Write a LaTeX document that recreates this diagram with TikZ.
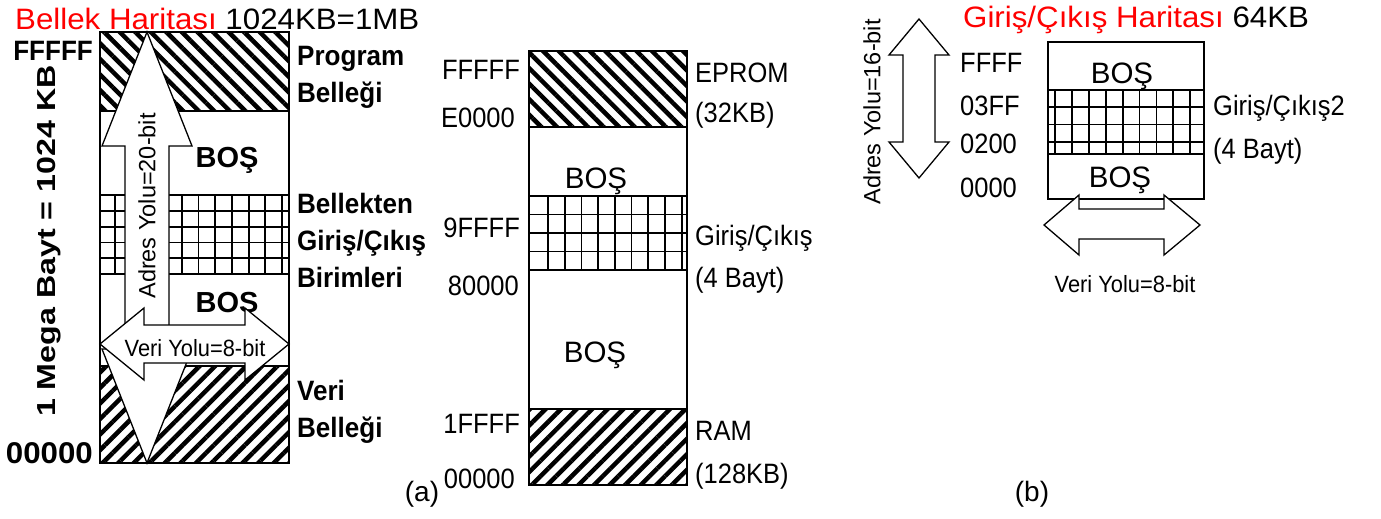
\documentclass[tikz,border=0pt]{standalone}
\usepackage{fontspec}
\setmainfont{Liberation Sans}
\usetikzlibrary{patterns.meta}
\begin{document}
\begin{tikzpicture}[
  x=1pt,y=-1pt,
  blk/.style={draw, line width=1.5pt},
  progfill/.style={pattern={Lines[angle=-45,distance=11pt,line width=4.5pt]}},
  datafill/.style={pattern={Lines[angle=45,distance=11pt,line width=4.5pt]}},
  iogrid/.style={line width=1.8pt},
  bus/.style={draw, fill=white, line width=1.3pt, line join=miter},
  lbl/.style={inner sep=0pt, xscale=0.91, font=\fontsize{28}{32}\selectfont},
  blbl/.style={inner sep=0pt, xscale=0.93, font=\fontsize{28}{32}\selectfont\bfseries},
  bos/.style={inner sep=0pt, anchor=base, font=\fontsize{29.5}{34}\selectfont},
  buslbl/.style={inner sep=0pt, font=\fontsize{23.5}{27}\selectfont},
  maptitle/.style={inner sep=0pt, anchor=base west, xscale=1.06, font=\fontsize{29.5}{34}\selectfont}
]
\useasboundingbox (0,0) rectangle (1381,519);

% (a) left memory map
\node[maptitle] (memtitle) at (15,30) {\textcolor{red}{Bellek Haritası} 1024KB=1MB};
\draw[blk, progfill] (100,32) rectangle (289,111);
\draw[blk] (100,111) rectangle (289,195);
\begin{scope}
  \clip (100,195) rectangle (289,274);
  \foreach \gx in {115,131.7,...,290} \draw[iogrid] (\gx,195) -- (\gx,274);
  \foreach \gy in {210.8,226.6,242.4,258.2} \draw[iogrid] (100,\gy) -- (289,\gy);
\end{scope}
\draw[blk] (100,195) rectangle (289,274);
\draw[blk] (100,274) rectangle (289,366);
\draw[blk, datafill] (100,366) rectangle (289,463);

\node[bos, font=\fontsize{29}{34}\selectfont\bfseries] (bosA) at (227,167) {BOŞ};
\node[bos, font=\fontsize{29}{34}\selectfont\bfseries] (bosB) at (227,312) {BOŞ};

\draw[bus] (147,32) -- (192,146) -- (169,146) -- (169,349) -- (192,349) -- (147,463)
  -- (102,349) -- (125,349) -- (125,146) -- (102,146) -- cycle;
\draw[bus] (100,344) -- (144,308) -- (144,325) -- (245,325) -- (245,308) -- (289,344)
  -- (245,380) -- (245,363) -- (144,363) -- (144,380) -- cycle;
\node[buslbl, rotate=90] (adrA) at (147,206) {Adres Yolu=20-bit};
\node[buslbl, anchor=base, xscale=0.93] (veriA) at (195,356) {Veri Yolu=8-bit};

\node[blbl, anchor=base east] (hiA) at (93,60) {FFFFF};
\node[blbl, anchor=base east, xscale=1.12, font=\fontsize{30}{34}\selectfont\bfseries] (loA) at (93,463) {00000};
\node[blbl, anchor=base, rotate=90, xscale=1.15] (size) at (55,241) {1 Mega Bayt = 1024 KB};

\node[blbl, anchor=base west] (prog1) at (297,66) {Program};
\node[blbl, anchor=base west] (prog2) at (297,102) {Belleği};
\node[blbl, anchor=base west] (mio1) at (297,213) {Bellekten};
\node[blbl, anchor=base west] (mio2) at (297,250) {Giriş/Çıkış};
\node[blbl, anchor=base west] (mio3) at (297,287) {Birimleri};
\node[blbl, anchor=base west] (data1) at (297,400) {Veri};
\node[blbl, anchor=base west] (data2) at (297,437) {Belleği};

% (a) middle memory map
\draw[blk, progfill] (529,51) rectangle (687,127);
\draw[blk] (529,127) rectangle (687,196);
\begin{scope}
  \clip (529,196) rectangle (687,270);
  \foreach \gx in {548,564.7,...,690} \draw[iogrid] (\gx,196) -- (\gx,270);
  \foreach \gy in {214.5,233,251.5} \draw[iogrid] (529,\gy) -- (687,\gy);
\end{scope}
\draw[blk] (529,196) rectangle (687,270);
\draw[blk] (529,270) rectangle (687,409);
\draw[blk, datafill] (529,409) rectangle (687,485);

\node[bos] (bosC) at (596,188) {BOŞ};
\node[bos] (bosD) at (595,362) {BOŞ};

\node[lbl, anchor=base east] (a1) at (520,80) {FFFFF};
\node[lbl, anchor=base east] (a2) at (515,127) {E0000};
\node[lbl, anchor=base east] (a3) at (520,237) {9FFFF};
\node[lbl, anchor=base east] (a4) at (519,295) {80000};
\node[lbl, anchor=base east] (a5) at (520,433) {1FFFF};
\node[lbl, anchor=base east] (a6) at (515,488) {00000};

\node[lbl, anchor=base west] (eprom1) at (695,82) {EPROM};
\node[lbl, anchor=base west] (eprom2) at (695,122) {(32KB)};
\node[lbl, anchor=base west] (io1) at (695,245) {Giriş/Çıkış};
\node[lbl, anchor=base west] (io2) at (695,287) {(4 Bayt)};
\node[lbl, anchor=base west] (ram1) at (695,440) {RAM};
\node[lbl, anchor=base west] (ram2) at (695,483) {(128KB)};

\node[inner sep=0pt, anchor=base, font=\fontsize{28}{32}\selectfont] (capA) at (422,501) {(a)};

% (b) I/O map
\node[maptitle] (iotitle) at (963,28) {\textcolor{red}{Giriş/Çıkış Haritası} 64KB};
\draw[blk] (1048,42) rectangle (1204,90);
\begin{scope}
  \clip (1048,90) rectangle (1204,154);
  \foreach \gx in {1055,1071.9,...,1206} \draw[iogrid] (\gx,90) -- (\gx,154);
  \foreach \gy in {107,124.5,142} \draw[iogrid] (1048,\gy) -- (1204,\gy);
\end{scope}
\draw[blk] (1048,90) rectangle (1204,154);
\draw[blk] (1048,154) rectangle (1204,199);

\node[bos] (bosE) at (1122,83) {BOŞ};
\node[bos] (bosF) at (1120,187) {BOŞ};

\node[lbl, anchor=base west] (b1) at (960,72) {FFFF};
\node[lbl, anchor=base west] (b2) at (960,115) {03FF};
\node[lbl, anchor=base west] (b3) at (960,153) {0200};
\node[lbl, anchor=base west] (b4) at (960,197) {0000};
\node[lbl, anchor=base west] (io3) at (1213,115) {Giriş/Çıkış2};
\node[lbl, anchor=base west] (io4) at (1213,158) {(4 Bayt)};

\draw[bus] (919,19) -- (949,55) -- (935,55) -- (935,142) -- (949,142) -- (919,178)
  -- (889,142) -- (903,142) -- (903,55) -- (889,55) -- cycle;
\node[buslbl, rotate=90] (adrB) at (872,112) {Adres Yolu=16-bit};

\draw[bus] (1044,225) -- (1079,195) -- (1079,209) -- (1164,209) -- (1164,195) -- (1200,225)
  -- (1164,255) -- (1164,239) -- (1079,239) -- (1079,255) -- cycle;
\node[buslbl, anchor=base, xscale=0.93] (veriB) at (1125,292) {Veri Yolu=8-bit};

\node[inner sep=0pt, anchor=base, font=\fontsize{28}{32}\selectfont] (capB) at (1032,501) {(b)};
\end{tikzpicture}
\end{document}
